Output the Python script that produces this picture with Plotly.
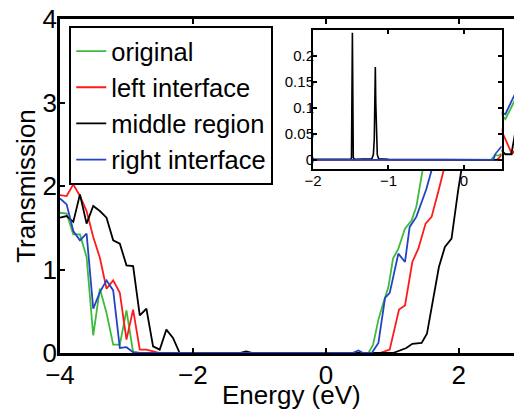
import plotly.graph_objects as go

FONT = "Liberation Sans, Arial, Helvetica, sans-serif"

# ---- main plot data (Energy in eV, Transmission) ----
green_x = [-4.0, -3.9, -3.8, -3.7, -3.6, -3.5, -3.4, -3.3, -3.2, -3.1, -3.0, -2.9, -2.8,
           0.55, 0.64, 0.71, 0.79, 0.86, 0.94, 1.01, 1.09, 1.19, 1.29, 1.36, 1.41,
           1.5, 1.8, 2.2, 2.5, 2.7, 2.95]
green_y = [1.68, 1.67, 1.42, 1.42, 1.15, 0.21, 0.77, 0.48, 0.10, 0.10, 0.51, 0.01, 0.0,
           0.0, 0.0, 0.10, 0.40, 0.59, 0.79, 1.13, 1.25, 1.49, 1.59, 1.75, 1.97,
           2.4, 3.0, 3.3, 3.0, 2.80, 3.20]

red_x = [-4.0, -3.9, -3.8, -3.7, -3.6, -3.5, -3.4, -3.3, -3.2, -3.1, -3.0, -2.9, -2.8, -2.7, -2.6, -2.5,
         0.81, 0.96, 1.10, 1.19, 1.30, 1.39, 1.50, 1.59, 1.70,
         1.9, 2.2, 2.5, 2.7, 2.8, 2.95]
red_y = [1.89, 1.88, 2.02, 1.88, 1.70, 1.39, 1.14, 0.77, 0.87, 0.72, 0.16, 0.52, 0.04, 0.04, 0.02, 0.0,
         0.0, 0.04, 0.52, 0.57, 1.09, 1.25, 1.55, 1.63, 1.96,
         2.6, 3.1, 2.9, 2.56, 2.38, 2.55]

black_x = [-4.0, -3.9, -3.8, -3.7, -3.6, -3.5, -3.4, -3.3, -3.2, -3.1, -3.0, -2.9, -2.8, -2.7, -2.6,
           -2.5, -2.4, -2.3, -2.2, -1.3, -1.2, -1.1,
           1.01, 1.21, 1.30, 1.44, 1.52, 1.61, 1.70, 1.79, 1.89, 1.99,
           2.1, 2.4, 2.6, 2.7, 2.79, 2.95]
black_y = [1.62, 1.64, 1.57, 1.90, 1.55, 1.76, 1.70, 1.62, 1.35, 1.31, 1.05, 1.04, 0.45, 0.53, 0.08,
           0.04, 0.28, 0.18, 0.0, 0.0, 0.02, 0.0,
           0.0, 0.06, 0.11, 0.12, 0.23, 0.63, 1.03, 1.27, 1.37, 1.95,
           2.5, 2.6, 2.45, 2.38, 2.38, 3.10]

blue_x = [-4.0, -3.9, -3.8, -3.7, -3.6, -3.5, -3.4, -3.3, -3.2, -3.1, -3.0, -2.9, -2.8,
          0.40, 0.49, 0.56, 0.69, 0.79, 0.89, 0.96, 1.09, 1.19, 1.26, 1.36, 1.51,
          1.7, 2.0, 2.3, 2.6, 2.7, 2.95]
blue_y = [1.85, 1.78, 1.46, 1.35, 1.43, 0.53, 0.73, 0.87, 0.75, 0.06, 0.07, 0.01, 0.0,
          0.0, 0.03, 0.0, 0.0, 0.12, 0.66, 0.72, 1.19, 1.09, 1.51, 1.63, 1.96,
          2.5, 3.0, 3.3, 2.9, 2.86, 3.28]

# ---- inset data (zoom of the gap region) ----
in_green_x = [-2.0, 0.36, 0.41, 0.45, 0.5]
in_green_y = [0.0, 0.0, 0.010, 0.008, 0.012]
in_red_x = [-2.0, 0.43, 0.46, 0.5]
in_red_y = [0.0, 0.0, 0.003, 0.010]
in_black_x = [-2.0, -1.5, -1.49, -1.478, -1.466, -1.45, -1.22, -1.2, -1.188, -1.18, -1.174,
              -1.168, -1.16, -1.148, -1.13, -1.0, 0.5]
in_black_y = [0.001, 0.001, 0.004, 0.244, 0.004, 0.001, 0.002, 0.010, 0.040, 0.110, 0.178,
              0.110, 0.040, 0.010, 0.002, 0.001, 0.0]
in_blue_x = [-2.0, 0.39, 0.42, 0.46, 0.5]
in_blue_y = [0.0, 0.0, 0.012, 0.018, 0.026]

names = ["original", "left interface", "middle region", "right interface"]
colors = ["#3dbb3d", "#ff1a1a", "#000000", "#2442c4"]

main_series = [(green_x, green_y), (red_x, red_y), (black_x, black_y), (blue_x, blue_y)]
inset_series = [(in_green_x, in_green_y), (in_red_x, in_red_y),
                (in_black_x, in_black_y), (in_blue_x, in_blue_y)]

main_ticks = [-4, -2, 0, 2]
y_ticks = [0, 1, 2, 3, 4]
inset_xticks = [-2, -1, 0]
inset_yticks = [0, 0.05, 0.1, 0.15, 0.2]
inset_ytext = ["0", "0.05", "0.1", "0.15", "0.2"]

fig = go.Figure()
for (xs, ys), n, c in zip(main_series, names, colors):
    fig.add_trace(go.Scatter(x=xs, y=ys, mode="lines", name=n,
                             line=dict(color=c, width=1.8), xaxis="x", yaxis="y"))
for (xs, ys), n, c in zip(inset_series, names, colors):
    fig.add_trace(go.Scatter(x=xs, y=ys, mode="lines", name=n, showlegend=False,
                             line=dict(color=c, width=1.6), xaxis="x2", yaxis="y2"))
# invisible trace to carry right-side ticks
fig.add_trace(go.Scatter(x=[-4], y=[0], mode="none", showlegend=False,
                         hoverinfo="skip", xaxis="x", yaxis="y3"))

fig.update_layout(
    width=522, height=410,
    margin=dict(l=52, r=8, t=11, b=65, autoexpand=False),
    paper_bgcolor="white", plot_bgcolor="white",
    font=dict(family=FONT, size=26, color="black"),
    showlegend=True,
    legend=dict(x=0.02, y=0.979, xanchor="left", yanchor="top",
                bgcolor="white", bordercolor="black", borderwidth=2,
                font=dict(size=25.5), itemwidth=30, tracegroupgap=0),
    xaxis=dict(domain=[0, 1], range=[-4, 2.95], tickvals=main_ticks,
               ticks="inside", ticklen=5, tickwidth=2, tickcolor="black",
               showline=True, linecolor="black", linewidth=2.5, mirror="ticks",
               showgrid=False, zeroline=False, automargin=False,
               ticklabeloverflow="allow", ticklabelstandoff=-3,
               tickfont=dict(size=26)),
    yaxis=dict(domain=[0, 1], range=[0, 4], tickvals=y_ticks,
               ticks="inside", ticklen=5, tickwidth=2, tickcolor="black",
               showline=True, linecolor="black", linewidth=2.5, mirror=False,
               showgrid=False, zeroline=False, automargin=False,
               ticklabeloverflow="allow", ticklabelstandoff=-5,
               title=dict(text="Transmission", standoff=0, font=dict(size=26)),
               tickfont=dict(size=26)),
    yaxis3=dict(overlaying="y", side="right", range=[0, 4], tickvals=y_ticks,
                ticks="inside", ticklen=3, tickwidth=2, tickcolor="black", automargin=False,
                showticklabels=False, showline=False, showgrid=False, zeroline=False),
    xaxis2=dict(domain=[0.5476, 0.956], anchor="y2", range=[-2, 0.5], tickvals=inset_xticks,
                ticks="inside", ticklen=4, tickwidth=1.5, tickcolor="black", automargin=False,
                showline=True, linecolor="black", linewidth=2, mirror="ticks",
                ticklabeloverflow="allow", ticklabelstandoff=-3,
                showgrid=False, zeroline=False, tickfont=dict(size=15)),
    yaxis2=dict(domain=[0.551, 0.967], anchor="x2", range=[-0.0175, 0.249],
                tickvals=inset_yticks, ticktext=inset_ytext, automargin=False,
                ticks="inside", ticklen=4, tickwidth=1.5, tickcolor="black",
                showline=True, linecolor="black", linewidth=2, mirror="ticks",
                ticklabeloverflow="allow", ticklabelstandoff=-6,
                showgrid=False, zeroline=False, tickfont=dict(size=15)),
    annotations=[dict(text="Energy (eV)", xref="paper", yref="paper", x=0.5, y=-0.126,
                      xanchor="center", yanchor="middle", showarrow=False,
                      font=dict(size=26, family=FONT, color="black"))],
)

fig.write_html("out.html")
